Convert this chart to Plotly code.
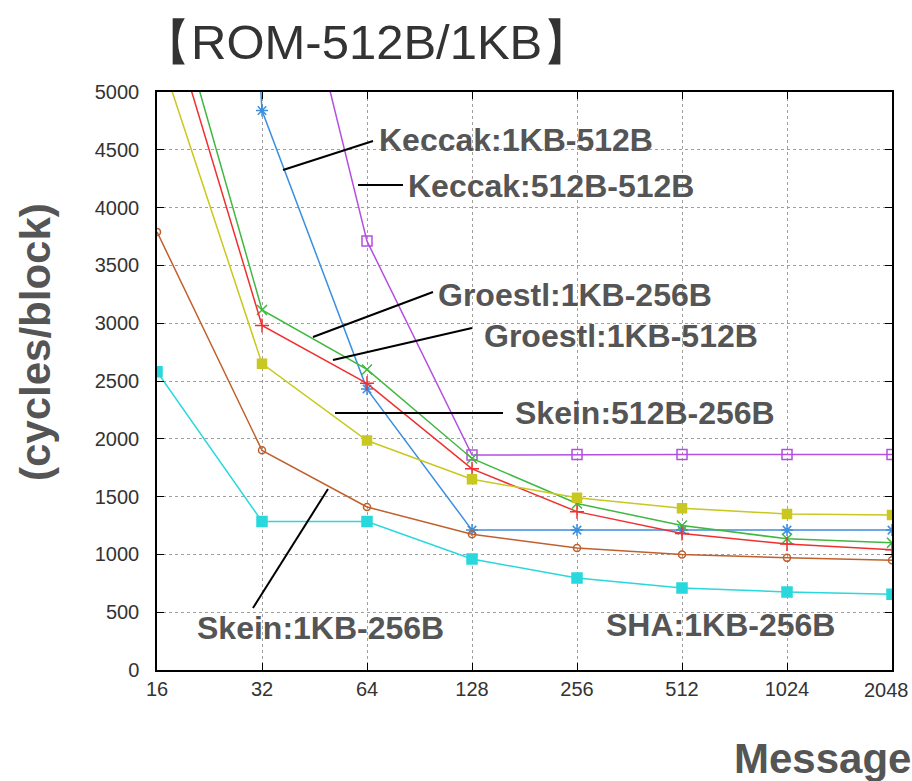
import math
import plotly.graph_objects as go

# ---------------- data ----------------
msg_sizes = [16, 32, 64, 128, 256, 512, 1024, 2048]
tick_labels = ["16", "32", "64", "128", "256", "512", "1024", "2048"]

keccak_1kb_512b = [20000, 4840, 2430, 1210, 1210, 1210, 1210, 1210]
keccak_512b_512b = [None, 7400, 3710, 1860, 1865, 1865, 1865, 1865]
groestl_1kb_256b = [6300, 3115, 2600, 1830, 1440, 1250, 1135, 1100]
groestl_1kb_512b = [6000, 2980, 2480, 1740, 1370, 1180, 1090, 1040]
skein_512b_256b = [5400, 2650, 1985, 1650, 1490, 1400, 1350, 1340]
skein_1kb_256b = [3790, 1900, 1410, 1175, 1055, 1000, 970, 950]
sha_1kb_256b = [2580, 1285, 1285, 960, 795, 710, 675, 655]

y_ticks = [0, 500, 1000, 1500, 2000, 2500, 3000, 3500, 4000, 4500, 5000]

series = [
    ("Keccak:1KB-512B", keccak_1kb_512b, "#3b8fe0", "asterisk-open", 10),
    ("Keccak:512B-512B", keccak_512b_512b, "#b44fe0", "square-open", 10),
    ("Groestl:1KB-256B", groestl_1kb_256b, "#3fb83f", "x-thin-open", 10),
    ("Groestl:1KB-512B", groestl_1kb_512b, "#f03030", "cross-thin-open", 10),
    ("Skein:512B-256B", skein_512b_256b, "#c8c820", "square", 9),
    ("Skein:1KB-256B", skein_1kb_256b, "#c0602c", "circle-open", 7),
    ("SHA:1KB-256B", sha_1kb_256b, "#28d8dc", "square", 10),
]

W, H = 912, 781
L, R, T, B = 157, 892, 92, 670


def px(x):
    return (x - L) / (R - L)


def py(y):
    return (B - y) / (B - T)


fig = go.Figure()
for name, vals, col, sym, sz in series:
    fig.add_trace(go.Scatter(
        x=msg_sizes, y=vals, mode="lines+markers", name=name,
        line=dict(color=col, width=1.5),
        marker=dict(symbol=sym, size=sz, color=col,
                    line=dict(color=col, width=1.5)),
        cliponaxis=True, showlegend=False,
    ))

label_font = dict(family="Liberation Sans, Arial, sans-serif", size=32, color="#555555")

labels = [
    ("Keccak:1KB-512B", 377, 140),
    ("Keccak:512B-512B", 406, 186),
    ("Groestl:1KB-256B", 436, 295),
    ("Groestl:1KB-512B", 482, 336),
    ("Skein:512B-256B", 513, 413),
    ("Skein:1KB-256B", 195, 628),
    ("SHA:1KB-256B", 604, 625),
]
annotations = []
for txt, x0, y0 in labels:
    annotations.append(dict(
        text="<b>%s</b>" % txt, x=px(x0), y=py(y0), xref="paper", yref="paper",
        xanchor="left", yanchor="middle", showarrow=False, font=label_font,
    ))

leaders = [
    (283, 170, 373, 141),
    (358, 185, 403, 185),
    (313, 337, 433, 292),
    (333, 360, 472, 328),
    (335, 413, 503, 413),
    (253, 608, 328, 489),
]
shapes = []
for x0, y0, x1, y1 in leaders:
    shapes.append(dict(type="line", xref="paper", yref="paper",
                       x0=px(x0), y0=py(y0), x1=px(x1), y1=py(y1),
                       line=dict(color="black", width=2)))

annotations.append(dict(
    text="【ROM-512B/1KB】", x=px(140), y=py(42), xref="paper", yref="paper",
    xanchor="left", yanchor="middle", showarrow=False,
    font=dict(family="Liberation Sans, Arial, sans-serif", size=49, color="#333333"),
))
annotations.append(dict(
    text="<b>(cycles/block)</b>", x=px(35), y=py(342), xref="paper", yref="paper",
    xanchor="center", yanchor="middle", showarrow=False, textangle=-90,
    font=dict(family="Liberation Sans, Arial, sans-serif", size=42, color="#555555"),
))
annotations.append(dict(
    text="<b>Message</b>", x=px(913), y=py(758), xref="paper", yref="paper",
    xanchor="right", yanchor="middle", showarrow=False,
    font=dict(family="Liberation Sans, Arial, sans-serif", size=42, color="#555555"),
))
# last x tick label drawn flush with the page edge (as in the reference)
annotations.append(dict(
    text=tick_labels[-1], x=px(911), y=py(690), xref="paper", yref="paper",
    xanchor="right", yanchor="middle", showarrow=False,
    font=dict(family="Liberation Sans, Arial, sans-serif", size=20, color="#333333"),
))
shown_ticktext = tick_labels[:-1] + [""]

eps = 1e-6
fig.update_layout(
    width=W, height=H,
    margin=dict(l=L, r=W - R, t=T, b=H - B),
    paper_bgcolor="white", plot_bgcolor="white",
    annotations=annotations, shapes=shapes,
    font=dict(family="Liberation Sans, Arial, sans-serif", size=20, color="#333333"),
    xaxis=dict(
        type="log", range=[math.log10(16) - eps, math.log10(2048) + eps],
        tickvals=msg_sizes, ticktext=shown_ticktext,
        showgrid=True, gridcolor="#a0a0a0", griddash="dot", gridwidth=1,
        showline=True, linecolor="black", linewidth=1.5, mirror="ticks",
        ticks="inside", ticklen=7, tickcolor="black",
        tickfont=dict(size=20, color="#333333"), zeroline=False,
    ),
    yaxis=dict(
        range=[0, 5000], tickvals=y_ticks,
        showgrid=True, gridcolor="#a0a0a0", griddash="dot", gridwidth=1,
        showline=True, linecolor="black", linewidth=1.5, mirror="ticks",
        ticks="inside", ticklen=7, tickcolor="black",
        tickfont=dict(size=20, color="#333333"), zeroline=False,
        ticklabelstandoff=12,
    ),
)

fig.write_html("out.html")
